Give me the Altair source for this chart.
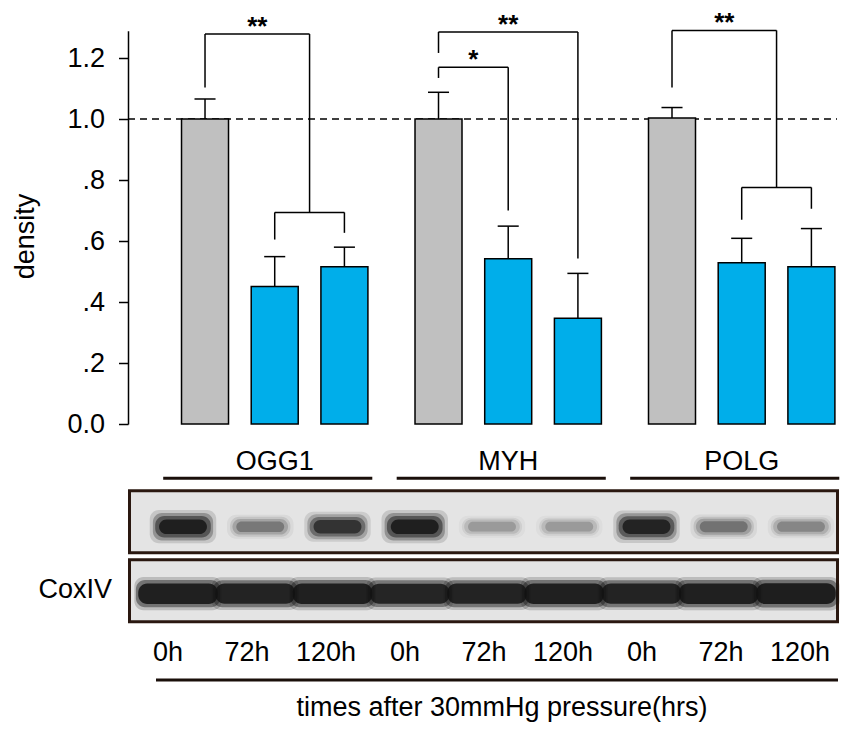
import altair as alt
import pandas as pd

# ---------------- data ----------------
genes = ["OGG1", "MYH", "POLG"]
times = ["0h", "72h", "120h"]
density = [1.000, 0.451, 0.516, 1.000, 0.542, 0.347, 1.004, 0.529, 0.516]
sem = [0.066, 0.098, 0.064, 0.088, 0.107, 0.147, 0.034, 0.080, 0.125]
time_colors = ["#c0c0c0", "#00aeea", "#00aeea"]

# significance brackets (heights in density units)
br_gene = ["OGG1", "MYH", "MYH", "POLG"]
br_from = ["0h", "0h", "0h", "0h"]
br_to = ["72h+120h", "120h", "72h", "72h+120h"]
br_top = [1.279, 1.286, 1.170, 1.291]
br_left_end = [1.104, 1.217, 1.135, 1.104]
br_right_end = [0.694, 0.543, 0.700, 0.776]
br_label = ["**", "**", "*", "**"]
sub_gene = ["OGG1", "POLG"]
sub_height = [0.694, 0.776]
sub_left_end = [0.605, 0.670]
sub_right_end = [0.627, 0.706]

# western blot band intensities (0..1), lanes in order OGG1/MYH/POLG x 0h/72h/120h
band_target = [0.95, 0.35, 0.75, 0.95, 0.22, 0.22, 0.90, 0.38, 0.30]
band_coxiv = [0.95, 0.92, 0.95, 0.90, 0.92, 0.95, 0.92, 0.95, 0.97]
blot_rows = ["target", "CoxIV"]

x_title = "times after 30mmHg pressure(hrs)"
loading_label = "CoxIV"

# ---------------- layout constants ----------------
FONT = "Liberation Sans"
FS = 27
GROUP_STEP = 3.35
W, H = 714, 718


def pos(g, t):
    gi = genes.index(g)
    if t == "72h+120h":
        return gi * GROUP_STEP + 1.5
    return gi * GROUP_STEP + times.index(t)


bars = []
for gi, g in enumerate(genes):
    for ti, t in enumerate(times):
        k = gi * 3 + ti
        bars.append(dict(gene=g, time=t, pos=gi * GROUP_STEP + ti,
                         density=density[k], top=density[k] + sem[k],
                         color=time_colors[ti]))
bars = pd.DataFrame(bars)

seg, stars = [], []
for g, f, t, top, le, re, lab in zip(br_gene, br_from, br_to, br_top,
                                     br_left_end, br_right_end, br_label):
    xl, xr = pos(g, f), pos(g, t)
    seg += [dict(x=xl, x2=xl, y=le, y2=top),
            dict(x=xl, x2=xr, y=top, y2=top),
            dict(x=xr, x2=xr, y=top, y2=re)]
    stars.append(dict(x=(xl + xr) / 2, y=top, label=lab))
for g, hv, le, re in zip(sub_gene, sub_height, sub_left_end, sub_right_end):
    xl, xr = pos(g, "72h"), pos(g, "120h")
    seg += [dict(x=xl, x2=xl, y=le, y2=hv),
            dict(x=xl, x2=xr, y=hv, y2=hv),
            dict(x=xr, x2=xr, y=hv, y2=re)]
seg = pd.DataFrame(seg)
stars = pd.DataFrame(stars)

groups = pd.DataFrame(dict(gene=genes, base=[i * GROUP_STEP for i in range(3)]))

# ---------------- bar panel ----------------
xs = alt.Scale(domain=[-1.105, 9.139], nice=False, padding=0, zero=False)
ys = alt.Scale(domain=[0, 1.29], range=[416, 22.7], nice=False, padding=0, zero=False)

y_axis = alt.Axis(
    values=[0, 0.2, 0.4, 0.6, 0.8, 1.0, 1.2],
    labelExpr="datum.value == 0 ? '0.0' : datum.value >= 1 ? format(datum.value, '.1f') : '.' + format(datum.value * 10, '.0f')",
    grid=False, labelFont=FONT, labelFontSize=FS, labelColor="black",
    labelPadding=14, tickSize=9.5, tickWidth=1.5, tickColor="black",
    domainColor="black", domainWidth=1.5,
    titleFont=FONT, titleFontSize=FS, titleFontWeight="normal", titleColor="black",
    titleX=-95, titleY=228, titleAngle=270, titleAlign="center", titleBaseline="alphabetic",
)


def X(f):
    return alt.X(f, type="quantitative", scale=xs, axis=None)


def Yq(f):
    return alt.Y(f, type="quantitative", scale=ys, axis=y_axis, title="density")


base_bars = alt.Chart(bars)

dashed = alt.Chart(groups.head(1)).transform_calculate(one="1.0").mark_rule(
    strokeDash=[7, 5], strokeWidth=1.5, color="black"
).encode(y=Yq("one"), x=alt.value(0), x2=alt.value(709))

err = base_bars.mark_rule(color="black", strokeWidth=1.5).encode(
    x=X("pos"), y=Yq("density"), y2="top")
cap = base_bars.transform_calculate(
    cl="datum.pos - 0.151", cr="datum.pos + 0.151"
).mark_rule(color="black", strokeWidth=1.5).encode(x=X("cl"), x2="cr", y=Yq("top"))

bar = base_bars.mark_bar(size=47, stroke="black", strokeWidth=1.5).encode(
    x=X("pos"),
    y=Yq("density"),
    color=alt.Color("color:N", scale=None),
)

brackets = alt.Chart(seg).mark_rule(color="black", strokeWidth=1.5).encode(
    x=X("x"), x2="x2", y=Yq("y"), y2="y2")

star_txt = alt.Chart(stars).mark_text(
    font=FONT, fontSize=26, fontWeight="bold", baseline="alphabetic", align="center",
    dy=1, color="black"
).encode(x=X("x"), y=Yq("y"), text="label:N")

gene_txt = alt.Chart(groups).transform_calculate(c="datum.base + 1").mark_text(
    font=FONT, fontSize=FS, baseline="middle", align="center", color="black"
).encode(x=X("c"), y=alt.value(453.7), text="gene:N")

gene_line = alt.Chart(groups).transform_calculate(
    l="datum.base - 0.6", r="datum.base + 2.4"
).mark_rule(color="#1a0f0a", strokeWidth=3).encode(x=X("l"), x2="r", y=alt.value(470.3))

bar_panel = alt.layer(dashed, err, cap, bar, brackets, star_txt, gene_txt, gene_line)

# ---------------- blot panel ----------------
lanes = []
for i in range(9):
    lanes.append(dict(lane=i, row="target", inten=band_target[i]))
    lanes.append(dict(lane=i, row="CoxIV", inten=band_coxiv[i]))
lanes = pd.DataFrame(lanes)

bx = alt.Scale(domain=[-0.712, 8.531], nice=False, padding=0, zero=False)
by = alt.Scale(domain=blot_rows, range=[482.7, 613.7], paddingInner=0.1, paddingOuter=0)
BY = alt.Y("row:N", scale=by, axis=None)

boxes = alt.Chart(pd.DataFrame(dict(row=blot_rows))).mark_rect(
    fill="#e4e4e4", stroke="#2a1810", strokeWidth=3
).encode(x=alt.value(1.5), x2=alt.value(709.5), y=BY)


def band_layers(row, half, layers, x_off, y_off, radius):
    out = []
    for extra, size, k in layers:
        out.append(
            alt.Chart(lanes).transform_filter(alt.datum.row == row).transform_calculate(
                x0=f"datum.lane - {half + extra}", x1=f"datum.lane + {half + extra}",
                op=f"min(1, datum.inten * {k})",
                sz=f"{size} * (0.55 + 0.45 * datum.inten)",
            ).mark_bar(orient="horizontal", color="#121212", cornerRadius=radius,
                       xOffset=x_off, yOffset=y_off).encode(
                x=alt.X("x0:Q", scale=bx, axis=None), x2="x1",
                y=BY,
                size=alt.Size("sz:Q", scale=None, legend=None),
                opacity=alt.Opacity("op:Q", scale=None, legend=None),
            )
        )
    return out


target_bands = band_layers(
    "target", 0.36, [(0.07, 34, 0.15), (0.03, 28, 0.3), (0.0, 22, 0.5), (-0.05, 15, 0.85)], 0, 5, 9)
cox_bands = band_layers(
    "CoxIV", 0.5, [(0.0, 34, 0.2), (-0.02, 28, 0.45), (-0.05, 21, 0.9)], -10, 3, 9)

blot_panel = alt.layer(boxes, *target_bands, *cox_bands)

# ---------------- lane labels panel ----------------
lane_lab = pd.DataFrame(dict(lane=list(range(9)), time=times * 3))
lx = alt.Scale(domain=[-0.506, 8.532], nice=False, padding=0, zero=False)

time_txt = alt.Chart(lane_lab).mark_text(
    font=FONT, fontSize=FS, baseline="middle", align="center", color="black"
).encode(x=alt.X("lane:Q", scale=lx, axis=None), y=alt.value(645.3), text="time:N")

one = pd.DataFrame(dict(label=[x_title], cox=[loading_label]))
bottom_line = alt.Chart(one).mark_rule(color="#1a0f0a", strokeWidth=3).encode(
    x=alt.value(28), x2=alt.value(710), y=alt.value(672))
title_txt = alt.Chart(one).mark_text(
    font=FONT, fontSize=FS, baseline="middle", align="center", color="black"
).encode(x=alt.value(374), y=alt.value(700.3), text="label:N")
cox_txt = alt.Chart(one).mark_text(
    font=FONT, fontSize=FS, baseline="middle", align="right", color="black"
).encode(x=alt.value(-16), y=alt.value(582), text="cox:N")

label_panel = alt.layer(time_txt, bottom_line, title_txt, cox_txt)

chart = alt.layer(bar_panel, blot_panel, label_panel).resolve_scale(
    x="independent", y="independent"
).properties(
    width=W, height=H,
    autosize=alt.AutoSizeParams(type="none"),
    padding={"left": 120, "top": 0, "right": 0, "bottom": 0},
).configure_view(stroke=None)

chart.save("out.html", embed_options={"renderer": "svg", "actions": False})
